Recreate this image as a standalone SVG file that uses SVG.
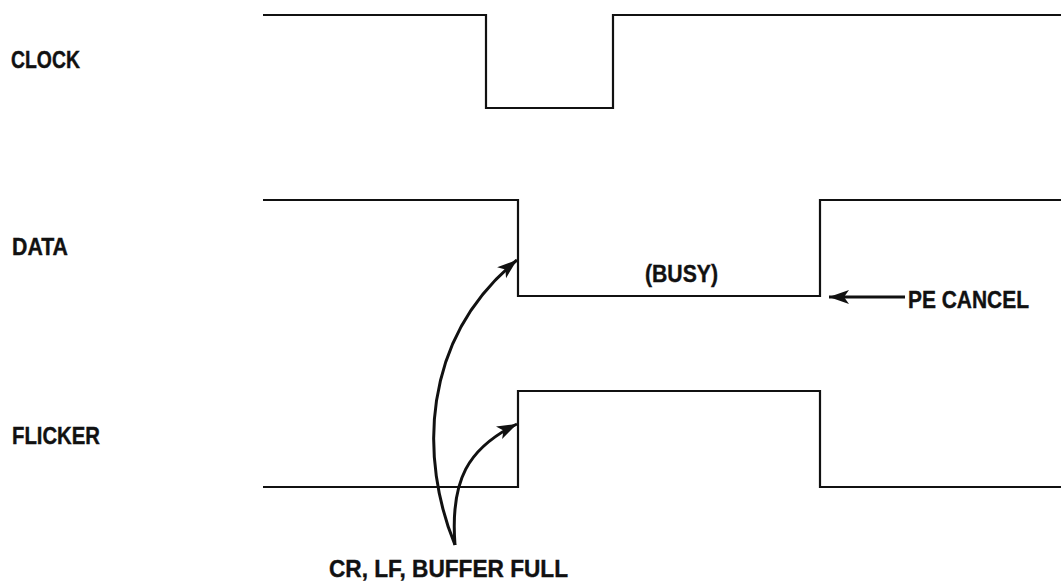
<svg xmlns="http://www.w3.org/2000/svg" width="1061" height="582" viewBox="0 0 1061 582">
<style>
.lbl{font-family:"Liberation Sans",Arial,sans-serif;font-weight:bold;font-size:24.5px;fill:#111;stroke:#111;stroke-width:0.4}
.wave{fill:none;stroke:#111;stroke-width:2.2;stroke-linejoin:miter}
.arr{fill:none;stroke:#111;stroke-width:3}
</style>
<defs>
<marker id="ah" markerUnits="userSpaceOnUse" markerWidth="22" markerHeight="16" refX="20" refY="7" orient="auto">
<path d="M0,0 L20,7 L0,14 L5,7 Z" fill="#111"/>
</marker>
</defs>
<rect width="1061" height="582" fill="#fff"/>
<g id="clock">
<text class="lbl" x="11" y="68" textLength="69" lengthAdjust="spacingAndGlyphs">CLOCK</text>
<path class="wave" d="M263,15 H486 V108 H613 V15 H1061"/>
</g>
<g id="data">
<text class="lbl" x="12" y="255" textLength="56" lengthAdjust="spacingAndGlyphs">DATA</text>
<path class="wave" d="M263,200 H518 V296 H820 V200 H1061"/>
<text class="lbl" x="645" y="282" textLength="73" lengthAdjust="spacingAndGlyphs">(BUSY)</text>
</g>
<g id="flicker">
<text class="lbl" x="12" y="444" textLength="88" lengthAdjust="spacingAndGlyphs">FLICKER</text>
<path class="wave" d="M263,487 H518 V391 H820 V487 H1061"/>
</g>
<g id="pe-cancel">
<text class="lbl" x="908" y="308" textLength="121" lengthAdjust="spacingAndGlyphs">PE CANCEL</text>
</g>
<g id="cr-lf-label">
<text class="lbl" x="329" y="577" textLength="239" lengthAdjust="spacingAndGlyphs">CR, LF, BUFFER FULL</text>
</g>
<g id="connectors">
<path class="arr" d="M455,545 C420,460 420,340 517,260" marker-end="url(#ah)"/>
<path class="arr" d="M455,545 C450,480 468,448 517,424" marker-end="url(#ah)"/>
<path class="arr" stroke-width="2.5" d="M905,297 H829" marker-end="url(#ah)"/>
</g>
</svg>
